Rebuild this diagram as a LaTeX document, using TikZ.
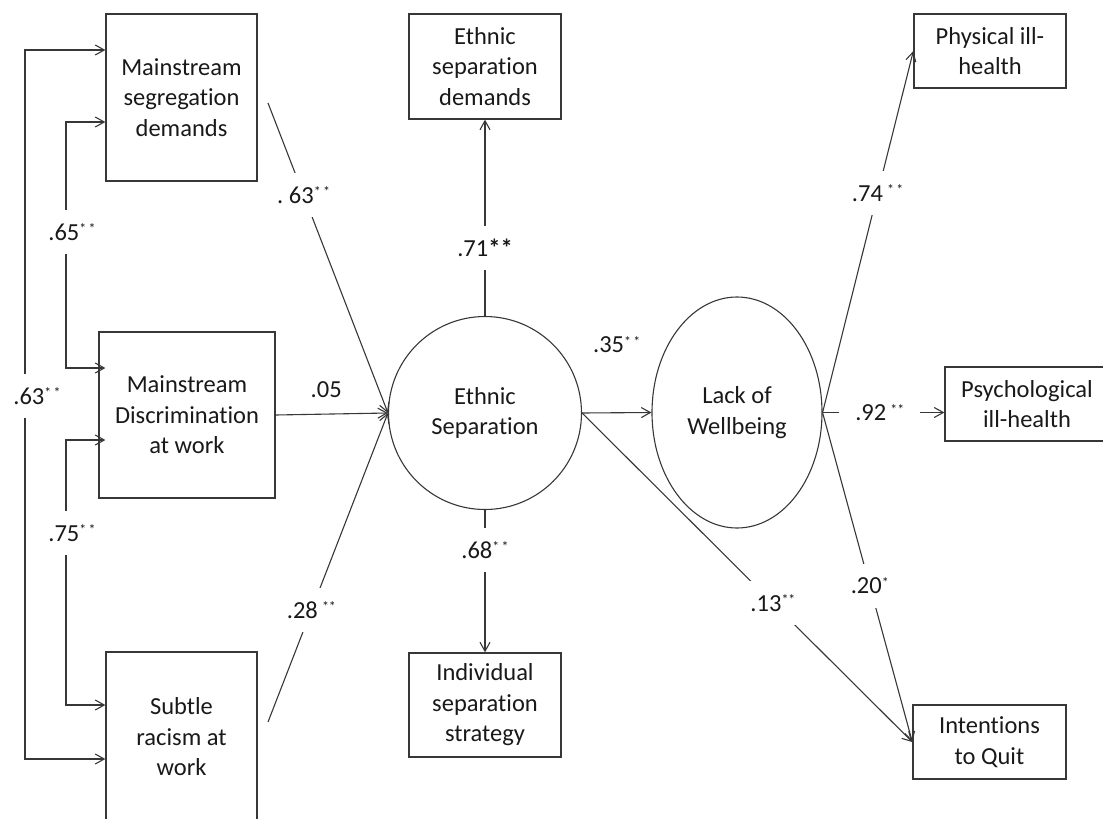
\documentclass[tikz,border=0pt]{standalone}
\usepackage{fontspec}
\setmainfont{Carlito}[Ligatures=NoCommon]
\usetikzlibrary{arrows.meta,shapes.geometric}
\definecolor{ln}{RGB}{55,55,55}
\definecolor{tx}{RGB}{25,25,25}
\newcommand{\sg}[1]{\raisebox{6.5pt}{\fontsize{14}{14}\selectfont #1}}
\begin{document}
\begin{tikzpicture}[x=1pt,y=-1pt,
  every node/.style={font=\fontsize{24.5}{30.5}\selectfont, text=tx},
  box/.style={draw=ln, line width=1.3pt, align=center, inner sep=0pt},
  latent/.style={draw=ln, line width=1.1pt, align=center, inner sep=0pt},
  arr/.style={draw=ln, line width=1.1pt, -{Straight Barb[length=9pt,width=10pt]}},
  arrboth/.style={draw=ln, line width=1.1pt, {Straight Barb[length=9pt,width=10pt]}-{Straight Barb[length=9pt,width=10pt]}},
  lbl/.style={fill=white, inner xsep=2pt, inner ysep=0pt, minimum height=44pt}]
\useasboundingbox (0,0) rectangle (1103,819);

% observed variables
\node[box, minimum width=151pt, minimum height=167pt] (msd) at (181.5,97.5) {Mainstream\\segregation\\demands};
\node[box, minimum width=176pt, minimum height=166pt] (mdw) at (187,415) {Mainstream\\Discrimination\\at work};
\node[box, minimum width=151pt, minimum height=170pt] (srw) at (181.5,737) {Subtle\\racism at\\work};
\node[box, minimum width=152pt, minimum height=105pt] (esd) at (485,66.5) {Ethnic\\separation\\demands};
\node[box, minimum width=152pt, minimum height=104pt] (iss) at (485,705) {Individual\\separation\\strategy};
\node[box, minimum width=152pt, minimum height=74pt] (phys) at (990,51) {Physical ill-\\health};
\node[box, minimum width=164pt, minimum height=74pt] (psych) at (1027,404) {Psychological\\ill-health};
\node[box, minimum width=153pt, minimum height=74pt] (int) at (989.5,742) {Intentions\\to Quit};

% latent variables
\node[latent, circle, minimum size=193pt] (es) at (485,413) {Ethnic\\Separation};
\node[latent, ellipse, minimum width=170pt, minimum height=231pt] (lw) at (737,412.5) {Lack of\\Wellbeing};

% free ends and corners
\coordinate (a1) at (268,103);
\coordinate (a3) at (268,722);
\coordinate (l1) at (25,50);
\coordinate (l2) at (25,759);
\coordinate (m1) at (66,122);
\coordinate (m2) at (66,368);
\coordinate (n1) at (66,440);
\coordinate (n2) at (66,705);

% correlations among predictors
\draw[arrboth] (msd.west |- l1) -- (l1) -- node[lbl, pos=0.488, xshift=12pt] {.63\sg{*\,*}} (l2) -- (srw.west |- l2);
\draw[arrboth] (msd.west |- m1) -- (m1) -- node[lbl, pos=0.447, xshift=6pt] {.65\sg{*\,*}} (m2) -- (msd.west |- m2);
\draw[arrboth] (msd.west |- n1) -- (n1) -- node[lbl, pos=0.351, xshift=6pt] {.75\sg{*\,*}} (n2) -- (srw.west |- n2);

% paths into ethnic separation
\draw[arr] (a1) -- node[lbl, pos=0.297] {.\ 63\sg{*\,*}} (es.west);
\draw[arr] (mdw.east) -- node[pos=0.45, yshift=24pt] {.05} (es.west);
\draw[arr] (a3) -- node[lbl, pos=0.362] {.28\,\sg{**}} (es.west);

% indicators of ethnic separation
\draw[arr] (es.north) -- node[lbl, pos=0.345] {.71\textbf{**}} (esd.south);
\draw[arr] (es.south) -- node[lbl, pos=0.28] {.68\sg{*\,*}} (iss.north);

% outcomes
\draw[arr] (es.east) -- node[pos=0.5, yshift=68pt] {.35\sg{*\,*}} (lw.west);
\draw[arr] (es.east) -- node[lbl, pos=0.578] {.13\sg{**}} (int.west);
\draw[arr] (lw.east) -- node[lbl, pos=0.607] {.74\,\sg{*\,*}} (phys.west);
\draw[arr] (lw.east) -- node[lbl, pos=0.47, inner xsep=16pt] {.92\,\sg{**}} (psych.west |- lw.east);
\draw[arr] (lw.east) -- node[lbl, pos=0.526] {.20\sg{*}} (int.west);
\end{tikzpicture}
\end{document}
